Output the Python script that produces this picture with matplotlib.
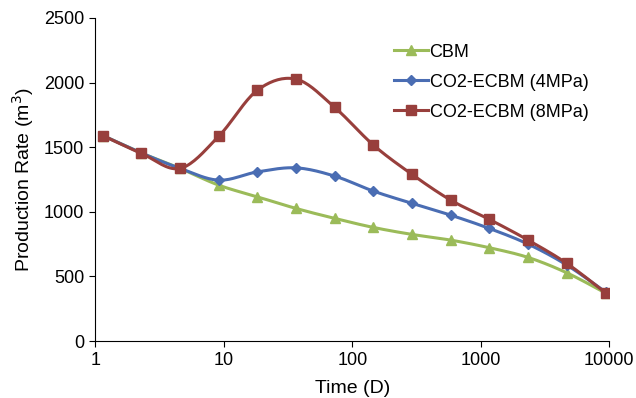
import numpy as np
import matplotlib.pyplot as plt

plt.rcParams["font.family"] = "Liberation Sans"

# time steps (days) and production rates (m3)
time_d = [1.14, 2.28, 4.56, 9.13, 18.25, 36.5, 73, 146, 292, 584, 1168, 2336, 4672, 9344]
cbm = [1590, 1455, 1336, 1206, 1116, 1026, 949, 879, 825, 781, 722, 647, 528, 372]
ecbm_4 = [1590, 1455, 1336, 1245, 1309, 1340, 1276, 1160, 1065, 974, 871, 750, 588, 380]
ecbm_8 = [1590, 1452, 1336, 1585, 1941, 2026, 1807, 1516, 1289, 1090, 941, 781, 601, 374]


def smooth(x, y, n=20):
    # Catmull-Rom style bezier through the points, done in log-x space
    u = np.log10(np.asarray(x, float))
    v = np.asarray(y, float)
    pu = np.concatenate([[u[0]], u, [u[-1]]])
    pv = np.concatenate([[v[0]], v, [v[-1]]])
    out_u, out_v = [], []
    t = np.linspace(0, 1, n)
    for i in range(1, len(pu) - 2):
        p0 = np.array([pu[i], pv[i]])
        p3 = np.array([pu[i + 1], pv[i + 1]])
        c1 = p0 + (np.array([pu[i + 1], pv[i + 1]]) - np.array([pu[i - 1], pv[i - 1]])) / 6
        c2 = p3 - (np.array([pu[i + 2], pv[i + 2]]) - np.array([pu[i], pv[i]])) / 6
        b = ((1 - t) ** 3)[:, None] * p0 + (3 * (1 - t) ** 2 * t)[:, None] * c1 \
            + (3 * (1 - t) * t ** 2)[:, None] * c2 + (t ** 3)[:, None] * p3
        out_u.extend(b[:, 0])
        out_v.extend(b[:, 1])
    return 10 ** np.array(out_u), np.array(out_v)


fig = plt.figure(figsize=(6.36, 3.98), dpi=100)
ax = fig.add_axes([0.150, 0.143, 0.808, 0.812])

series = [
    (cbm, "CBM", "#9BBB59", "^", 7.5),
    (ecbm_4, "CO2-ECBM (4MPa)", "#4A6DB3", "D", 5.5),
    (ecbm_8, "CO2-ECBM (8MPa)", "#983F3C", "s", 7),
]
for vals, name, col, mk, ms in series:
    sx, sy = smooth(time_d, vals)
    ax.plot(sx, sy, color=col, lw=2.2, zorder=2)
    ax.plot(time_d, vals, ls="none", marker=mk, ms=ms, color=col, zorder=3)
    ax.plot([], [], color=col, lw=2.2, marker=mk, ms=ms, label=name)

ax.set_xscale("log")
ax.set_xlim(1, 10000)
ax.set_ylim(0, 2500)
ax.set_yticks(range(0, 2501, 500))
ax.set_xticks([1, 10, 100, 1000, 10000])
ax.set_xticklabels(["1", "10", "100", "1000", "10000"])
ax.minorticks_off()
ax.spines["top"].set_visible(False)
ax.spines["right"].set_visible(False)
ax.tick_params(direction="out", length=4.5, pad=3.5, labelsize=13)
ax.set_xlabel("Time (D)", fontsize=14, labelpad=8)
ax.set_ylabel("Production Rate (m$^3$)", fontsize=14, labelpad=6)

ax.legend(loc="upper left", bbox_to_anchor=(0.620, 0.89), bbox_transform=fig.transFigure,
          frameon=False, fontsize=13, handlelength=1.85, handletextpad=0.1,
          labelspacing=0.72, borderpad=0, borderaxespad=0)

fig.savefig("out.png", dpi=100)
